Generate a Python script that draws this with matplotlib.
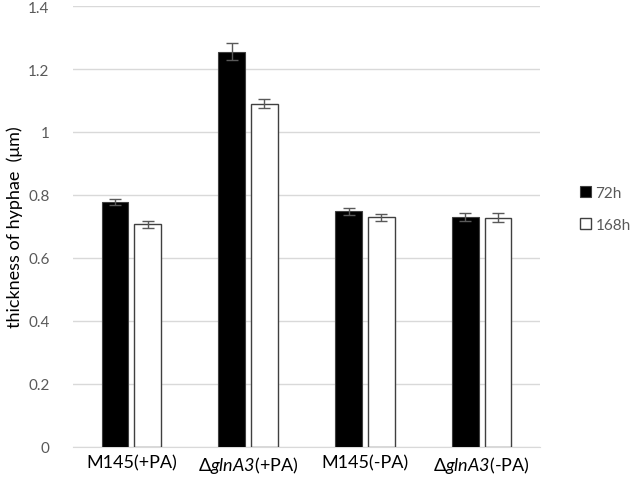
import matplotlib.pyplot as plt
import numpy as np

plt.rcParams['font.family'] = ['Lato', 'DejaVu Sans']
# mathtext only used for the italic gene name, digits included
plt.rcParams['mathtext.fontset'] = 'custom'
plt.rcParams['mathtext.rm'] = 'Lato:italic'
plt.rcParams['mathtext.it'] = 'Lato:italic'

# data
categories = ['M145(+PA)', 'Δ$\\mathit{glnA3}$(+PA)', 'M145(-PA)', 'Δ$\\mathit{glnA3}$(-PA)']
series_names = ['72h', '168h']
values_72h = [0.778, 1.255, 0.748, 0.730]
values_168h = [0.707, 1.090, 0.730, 0.728]
err_72h = [0.010, 0.028, 0.011, 0.013]
err_168h = [0.011, 0.014, 0.011, 0.014]
yticks = [0, 0.2, 0.4, 0.6, 0.8, 1, 1.2, 1.4]
ytick_labels = ['0', '0.2', '0.4', '0.6', '0.8', '1', '1.2', '1.4']

fig = plt.figure(figsize=(6.33, 4.81), dpi=100)
ax = fig.add_axes([73 / 633, 33 / 481, 467 / 633, 441 / 481])

x = np.arange(len(categories))
w = 0.23
gap = 0.025
ax.bar(x - w / 2 - gap, values_72h, w, color='black', edgecolor='#404040', linewidth=0.8,
       yerr=err_72h, error_kw=dict(ecolor='#595959', elinewidth=1, capsize=4, capthick=1),
       label=series_names[0], zorder=3)
ax.bar(x + w / 2 + gap, values_168h, w, color='white', edgecolor='#404040', linewidth=1,
       yerr=err_168h, error_kw=dict(ecolor='#595959', elinewidth=1, capsize=4, capthick=1),
       label=series_names[1], zorder=3)

ax.set_xlim(-0.5, len(categories) - 0.5)
ax.set_ylim(0, 1.4)
ax.set_yticks(yticks)
ax.set_yticklabels(ytick_labels)
ax.set_xticks(x)
ax.set_xticklabels(categories, fontsize=13, color='black')
ax.tick_params(axis='y', labelsize=11, labelcolor='#595959', length=0, pad=17)
ax.tick_params(axis='x', length=0, pad=5)
ax.grid(axis='y', color='#d9d9d9', linewidth=1, zorder=0)
for s in ['top', 'right', 'left']:
    ax.spines[s].set_visible(False)
ax.spines['bottom'].set_color('#d9d9d9')
ax.set_ylabel('thickness of hyphae  (μm)', fontsize=13)
ax.yaxis.set_label_coords(-0.108, 0.5)

leg = ax.legend(loc='center left', bbox_to_anchor=(1.07, 0.54), frameon=False,
                fontsize=11, handlelength=0.7, handleheight=0.7, handletextpad=0.3,
                labelspacing=1.2, borderpad=0)
for t in leg.get_texts():
    t.set_color('#595959')

fig.savefig('out.png', dpi=100)
